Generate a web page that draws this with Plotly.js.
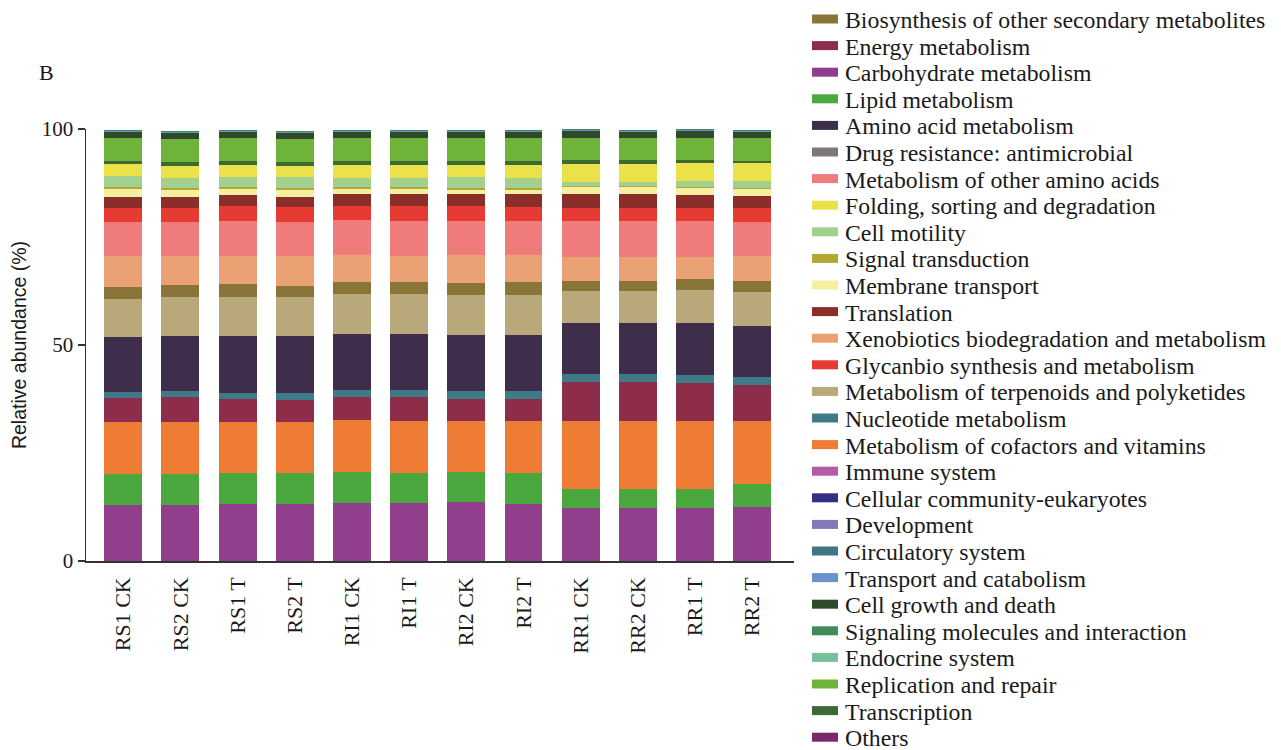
<!DOCTYPE html>
<html>
<head>
<meta charset="utf-8">
<script src="https://cdn.plot.ly/plotly-3.0.1.min.js"></script>
<style>
  html, body { margin: 0; padding: 0; background: #fff; }
  #chart { width: 1281px; height: 750px; }
</style>
</head>
<body>
<div id="chart"></div>
<script>
// Samples on the x axis
const samples = ["RS1 CK", "RS2 CK", "RS1 T", "RS2 T", "RI1 CK", "RI1 T",
                 "RI2 CK", "RI2 T", "RR1 CK", "RR2 CK", "RR1 T", "RR2 T"];

// Relative abundance (%) of each KEGG pathway per sample
const carbohydrate        = [12.96, 12.96, 13.19, 13.19, 13.43, 13.43, 13.66, 13.19, 12.27, 12.27, 12.27, 12.50];
const lipid               = [7.18, 7.18, 7.18, 7.18, 7.17, 6.94, 6.94, 7.18, 4.40, 4.40, 4.40, 5.32];
const cofactors           = [12.04, 12.04, 11.81, 11.81, 12.04, 12.04, 11.81, 12.04, 15.74, 15.74, 15.74, 14.59];
const energy              = [5.55, 5.78, 5.32, 5.09, 5.32, 5.55, 5.09, 5.09, 9.03, 9.03, 8.79, 8.33];
const nucleotide          = [1.39, 1.39, 1.39, 1.62, 1.62, 1.62, 1.85, 1.85, 1.85, 1.85, 1.86, 1.85];
const aminoAcid           = [12.73, 12.73, 13.19, 13.19, 12.97, 12.97, 12.96, 12.96, 11.80, 11.80, 12.03, 11.81];
const terpenoids          = [8.80, 9.03, 9.03, 9.03, 9.26, 9.26, 9.26, 9.26, 7.41, 7.41, 7.64, 7.87];
const biosynthesis        = [2.78, 2.78, 3.01, 2.55, 2.77, 2.77, 2.78, 3.01, 2.31, 2.31, 2.55, 2.54];
const xenobiotics         = [7.17, 6.71, 6.48, 6.94, 6.25, 6.02, 6.48, 6.25, 5.56, 5.56, 5.09, 5.79];
const otherAminoAcids     = [7.87, 7.87, 8.10, 7.87, 8.11, 8.10, 7.87, 7.87, 8.33, 8.33, 8.33, 7.87];
const glycan              = [3.24, 3.24, 3.48, 3.47, 3.24, 3.48, 3.48, 3.24, 3.01, 3.01, 3.01, 3.24];
const translation         = [2.55, 2.55, 2.54, 2.32, 2.77, 2.77, 2.77, 3.01, 3.24, 3.24, 3.01, 2.78];
const membraneTransport   = [1.86, 1.63, 1.40, 1.63, 1.17, 1.17, 0.94, 0.94, 1.62, 1.62, 1.62, 1.62];
const signalTransduction  = [0.45, 0.45, 0.45, 0.45, 0.45, 0.45, 0.45, 0.45, 0.23, 0.23, 0.23, 0.23];
const cellMotility        = [2.55, 2.32, 2.32, 2.55, 2.09, 2.09, 2.55, 2.32, 0.93, 0.93, 1.39, 1.62];
const folding             = [2.78, 2.78, 2.78, 2.55, 3.01, 3.01, 2.78, 3.01, 4.17, 4.17, 4.17, 4.17];
const transcription       = [0.69, 0.92, 0.92, 0.92, 0.92, 0.92, 0.92, 0.92, 0.92, 0.92, 0.69, 0.46];
const replication         = [5.33, 5.33, 5.33, 5.33, 5.33, 5.33, 5.33, 5.33, 5.10, 5.10, 5.10, 5.33];
const cellGrowth          = [1.39, 1.38, 1.39, 1.38, 1.39, 1.39, 1.39, 1.39, 1.62, 1.39, 1.62, 1.39];
const transportCatabolism = [0.23, 0.23, 0.23, 0.23, 0.23, 0.23, 0.23, 0.23, 0.23, 0.23, 0.23, 0.23];
const drugResistance      = [0.03, 0.03, 0.03, 0.03, 0.03, 0.03, 0.03, 0.03, 0.03, 0.03, 0.03, 0.03];
const immuneSystem        = [0.02, 0.02, 0.02, 0.02, 0.02, 0.02, 0.02, 0.02, 0.02, 0.02, 0.02, 0.02];
const cellularCommunity   = [0.02, 0.02, 0.02, 0.02, 0.02, 0.02, 0.02, 0.02, 0.02, 0.02, 0.02, 0.02];
const development         = [0.02, 0.02, 0.02, 0.02, 0.02, 0.02, 0.02, 0.02, 0.02, 0.02, 0.02, 0.02];
const circulatory         = [0.02, 0.02, 0.02, 0.02, 0.02, 0.02, 0.02, 0.02, 0.02, 0.02, 0.02, 0.02];
const signalingMolecules  = [0.02, 0.02, 0.02, 0.02, 0.02, 0.02, 0.02, 0.02, 0.02, 0.02, 0.02, 0.02];
const endocrine           = [0.02, 0.02, 0.02, 0.02, 0.02, 0.02, 0.02, 0.02, 0.02, 0.02, 0.02, 0.02];
const others              = [0.03, 0.03, 0.03, 0.03, 0.03, 0.03, 0.03, 0.03, 0.03, 0.03, 0.03, 0.03];

// Legend entries, top to bottom
const legendOrder = [
  "Biosynthesis of other secondary metabolites", "Energy metabolism", "Carbohydrate metabolism",
  "Lipid metabolism", "Amino acid metabolism", "Drug resistance: antimicrobial",
  "Metabolism of other amino acids", "Folding, sorting and degradation", "Cell motility",
  "Signal transduction", "Membrane transport", "Translation",
  "Xenobiotics biodegradation and metabolism", "Glycanbio synthesis and metabolism",
  "Metabolism of terpenoids and polyketides", "Nucleotide metabolism",
  "Metabolism of cofactors and vitamins", "Immune system", "Cellular community-eukaryotes",
  "Development", "Circulatory system", "Transport and catabolism", "Cell growth and death",
  "Signaling molecules and interaction", "Endocrine system", "Replication and repair",
  "Transcription", "Others"
];

// Pathway colours
const colours = {
  "Carbohydrate metabolism": "#913f8c",
  "Lipid metabolism": "#4ba83e",
  "Metabolism of cofactors and vitamins": "#ef7c34",
  "Energy metabolism": "#8e2d4a",
  "Nucleotide metabolism": "#3f7a88",
  "Amino acid metabolism": "#3e2d4b",
  "Metabolism of terpenoids and polyketides": "#b9a87a",
  "Biosynthesis of other secondary metabolites": "#8a7538",
  "Xenobiotics biodegradation and metabolism": "#eaa274",
  "Metabolism of other amino acids": "#ef7b7a",
  "Glycanbio synthesis and metabolism": "#e63a32",
  "Translation": "#8b2e2a",
  "Membrane transport": "#f5f0a0",
  "Signal transduction": "#b2a934",
  "Cell motility": "#a2d08e",
  "Folding, sorting and degradation": "#ebe24a",
  "Transcription": "#3d6a33",
  "Replication and repair": "#6fb43a",
  "Cell growth and death": "#2f4a2a",
  "Transport and catabolism": "#6b91cb",
  "Drug resistance: antimicrobial": "#7f7878",
  "Immune system": "#b55aa5",
  "Cellular community-eukaryotes": "#332f87",
  "Development": "#8378b8",
  "Circulatory system": "#3f7585",
  "Signaling molecules and interaction": "#3d8c5a",
  "Endocrine system": "#78c09a",
  "Others": "#7a2a6c"
};

// Stack order, bottom to top
const stack = [
  ["Carbohydrate metabolism", carbohydrate],
  ["Lipid metabolism", lipid],
  ["Metabolism of cofactors and vitamins", cofactors],
  ["Energy metabolism", energy],
  ["Nucleotide metabolism", nucleotide],
  ["Amino acid metabolism", aminoAcid],
  ["Metabolism of terpenoids and polyketides", terpenoids],
  ["Biosynthesis of other secondary metabolites", biosynthesis],
  ["Xenobiotics biodegradation and metabolism", xenobiotics],
  ["Metabolism of other amino acids", otherAminoAcids],
  ["Glycanbio synthesis and metabolism", glycan],
  ["Translation", translation],
  ["Membrane transport", membraneTransport],
  ["Signal transduction", signalTransduction],
  ["Cell motility", cellMotility],
  ["Folding, sorting and degradation", folding],
  ["Transcription", transcription],
  ["Replication and repair", replication],
  ["Cell growth and death", cellGrowth],
  ["Transport and catabolism", transportCatabolism],
  ["Drug resistance: antimicrobial", drugResistance],
  ["Immune system", immuneSystem],
  ["Cellular community-eukaryotes", cellularCommunity],
  ["Development", development],
  ["Circulatory system", circulatory],
  ["Signaling molecules and interaction", signalingMolecules],
  ["Endocrine system", endocrine],
  ["Others", others]
];

const serif = "Liberation Serif, Times New Roman, serif";
const W = 1281, H = 750;
const M = { l: 86, r: 487, t: 129, b: 189 };
const plotW = W - M.l - M.r, plotH = H - M.t - M.b;
const px2x = px => (px - M.l) / plotW;   // page pixel -> paper x
const px2y = py => (H - M.b - py) / plotH; // page pixel -> paper y

const traces = stack.map(([name, vals]) => ({
  type: "bar",
  name: name,
  x: samples,
  y: vals,
  marker: { color: colours[name], line: { width: 0 } },
  showlegend: false
}));

// Key: swatch + label per pathway, stacked down the right side
const keyTop = 19, keyStep = 26.6;
const keyShapes = [], keyLabels = [];
legendOrder.forEach((name, i) => {
  const cy = keyTop + i * keyStep;
  keyShapes.push({
    type: "rect", xref: "paper", yref: "paper",
    x0: px2x(812), x1: px2x(838), y0: px2y(cy + 4.5), y1: px2y(cy - 4.5),
    fillcolor: colours[name], line: { width: 0 }, layer: "above"
  });
  keyLabels.push({
    text: name, xref: "paper", yref: "paper",
    x: px2x(843), y: px2y(cy + 1), xanchor: "left", yanchor: "middle",
    showarrow: false,
    font: { family: serif, size: 23.8, color: "#1a1a1a" }
  });
});

const layout = {
  width: W,
  height: H,
  paper_bgcolor: "#ffffff",
  plot_bgcolor: "#ffffff",
  barmode: "stack",
  bargap: 0.336,
  showlegend: false,
  margin: { l: M.l, r: M.r, t: M.t, b: M.b, pad: 0, autoexpand: false },
  font: { family: serif, size: 20, color: "#1a1a1a" },
  xaxis: {
    type: "category",
    range: [-0.65, 11.73],
    showline: true,
    linecolor: "#333333",
    linewidth: 1.5,
    ticks: "",
    tickangle: -90,
    ticklabelstandoff: 6,
    tickfont: { family: serif, size: 22, color: "#1a1a1a" },
    showgrid: false,
    zeroline: false,
    fixedrange: true
  },
  yaxis: {
    range: [0, 100],
    tickvals: [0, 50, 100],
    ticktext: ["0", "50", "100"],
    ticks: "outside",
    ticklen: 7,
    tickwidth: 1.5,
    tickcolor: "#333333",
    showline: true,
    linecolor: "#333333",
    linewidth: 1.5,
    showgrid: false,
    zeroline: false,
    tickfont: { family: serif, size: 21, color: "#1a1a1a" },
    title: {
      text: "Relative abundance (%)",
      font: { family: "Liberation Sans, Arial, sans-serif", size: 19.5, color: "#1a1a1a" },
      standoff: 10
    },
    fixedrange: true
  },
  shapes: keyShapes,
  annotations: [{
    text: "B",
    xref: "paper", yref: "paper",
    x: px2x(37), y: px2y(72),
    xanchor: "left", yanchor: "middle",
    showarrow: false,
    font: { family: serif, size: 22, color: "#1a1a1a" }
  }].concat(keyLabels)
};

Plotly.newPlot("chart", traces, layout, { displayModeBar: false, staticPlot: true });
</script>
</body>
</html>
